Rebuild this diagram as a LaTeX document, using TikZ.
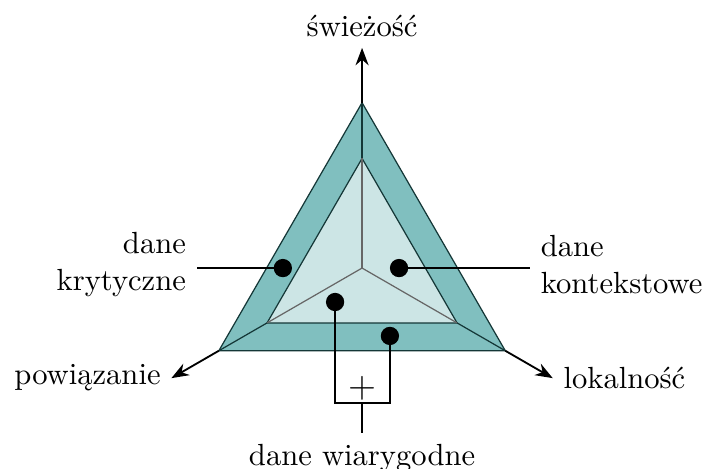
\documentclass[tikz,border=0pt]{standalone}
\usepackage{tikz}
\usetikzlibrary{positioning,arrows.meta,calc}
\definecolor{bandteal}{RGB}{128,191,191}
\definecolor{coreteal}{RGB}{204,229,229}
\definecolor{edgeteal}{RGB}{20,55,55}

\begin{document}
\begin{tikzpicture}[
        axisArrow/.style={-Stealth, semithick, draw=black},
        dataDot/.style={circle, fill=black, inner sep=0pt, minimum size=0.21cm},
        wireStyle/.style={semithick, draw=black},
        labelText/.style={font=\normalsize}
    ]
        \useasboundingbox (-4.16,-2.30) rectangle (3.94,3.08);

        % Center and vertices
        \coordinate (o) at (0,0);
        \foreach \name/\ang in {top/90, left/210, right/330} {
            \coordinate (out-\name) at (\ang:1.90);
            \coordinate (in-\name) at (\ang:1.26);
            \coordinate (tip-\name) at (\ang:2.53);
        }

        % Triangles
        \draw[fill=bandteal, draw=edgeteal, thin] (out-top) -- (out-left) -- (out-right) -- cycle;
        \draw[fill=coreteal, draw=edgeteal, thin] (in-top) -- (in-left) -- (in-right) -- cycle;
        \foreach \name in {top, left, right} {
            \draw[draw=black!60, thin] (o) -- (in-\name);
            \draw[draw=edgeteal, thin] (in-\name) -- (out-\name);
            \draw[axisArrow] (out-\name) -- (tip-\name);
        }

        % Axis labels
        \node[labelText, anchor=south] (fresh) at (tip-top) {świeżość};
        \node[labelText, anchor=east] (linked) at (tip-left) {powiązanie};
        \node[labelText, anchor=west] (local) at (tip-right) {lokalność};

        % Data points
        \node[dataDot] (critDot) at (-0.91,0) {};
        \node[dataDot] (ctxDot) at (0.425,0) {};
        \node[dataDot] (trustA) at (-0.31,-0.39) {};
        \node[dataDot] (trustB) at (0.32,-0.78) {};

        % Data labels
        \node[labelText, align=right, anchor=east] (crit) at (-1.90,0.04) {dane\\krytyczne};
        \node[labelText, align=left, anchor=west] (ctx) at (1.93,0.04) {dane\\kontekstowe};
        \node[labelText, anchor=north] (trust) at (0,-1.90) {dane wiarygodne};

        % Connectors
        \draw[wireStyle] (critDot.center) -- (crit.east |- critDot);
        \draw[wireStyle] (ctxDot.center) -- (ctx.west |- ctxDot);
        \coordinate (join) at (0,-1.55);
        \draw[wireStyle] (trustA.center) -- (trustA |- join) -- (trustB |- join) -- (trustB.center);
        \node[inner sep=0pt, font=\large] (plus) at (0,-1.38) {$+$};
        \draw[wireStyle] (join) -- (trust.north);
    \end{tikzpicture}
\end{document}
